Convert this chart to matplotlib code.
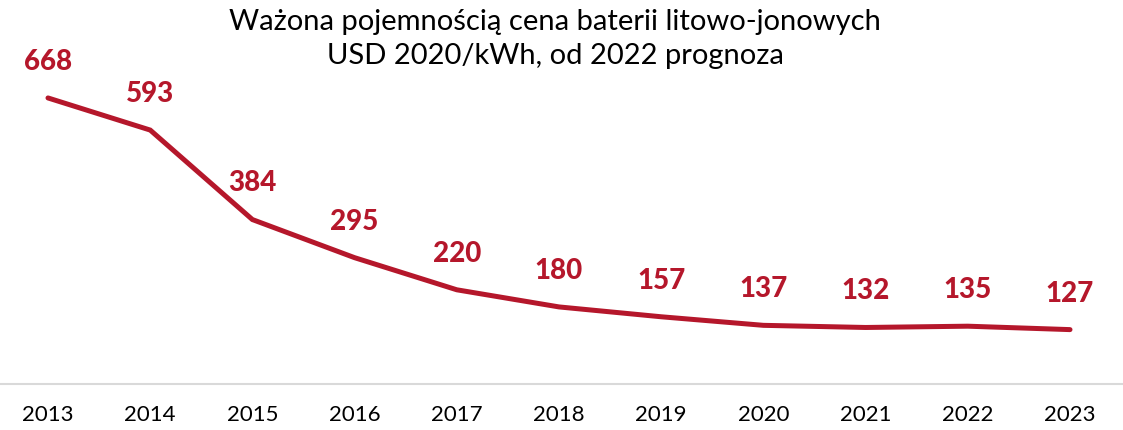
import matplotlib.pyplot as plt

years = [2013, 2014, 2015, 2016, 2017, 2018, 2019, 2020, 2021, 2022, 2023]
prices = [668, 593, 384, 295, 220, 180, 157, 137, 132, 135, 127]
title = "Ważona pojemnością cena baterii litowo-jonowych\nUSD 2020/kWh, od 2022 prognoza"

plt.rcParams["font.family"] = ["Lato", "DejaVu Sans"]

red = "#B5172B"

fig = plt.figure(figsize=(11.23, 4.30), dpi=100)
ax = fig.add_axes([0, 46 / 430, 1, 346 / 430])

ax.plot(years, prices, color=red, linewidth=3.6, solid_capstyle="round",
        solid_joinstyle="miter", zorder=3)

for x, y in zip(years, prices):
    ax.annotate(f"{y}", (x, y), xytext=(0, 26), textcoords="offset points",
                ha="center", va="center", fontsize=20, fontweight="black",
                color=red)

px_per_year = 102.2
ax.set_xlim(2013 - 48 / px_per_year, 2013 + (1123 - 48) / px_per_year)
ax.set_ylim(0, 808)

for side in ["top", "right", "left"]:
    ax.spines[side].set_visible(False)
ax.spines["bottom"].set_color("#d9d9d9")
ax.spines["bottom"].set_linewidth(1.5)
ax.set_yticks([])
ax.set_xticks(years)
ax.set_xticklabels([str(y) for y in years])
ax.tick_params(axis="x", length=0, pad=15, labelsize=16, colors="#000000")

fig.text(555 / 1123, 1 - 9 / 430, title, ha="center", va="top",
         fontsize=21, linespacing=1.4)

fig.savefig("out.png", dpi=100)
